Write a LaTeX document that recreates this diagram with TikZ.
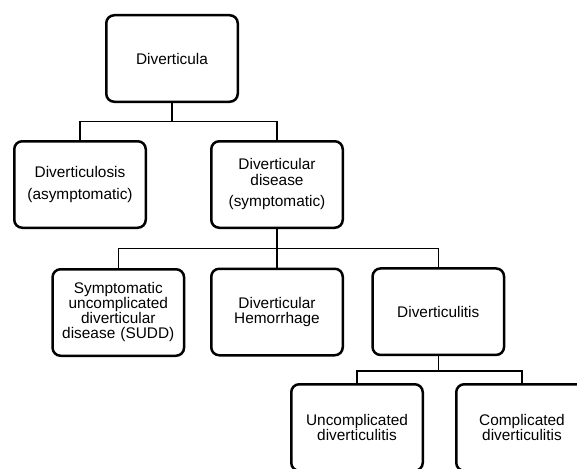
\documentclass[tikz,border=0pt]{standalone}
\usepackage{fontspec}
\setmainfont{Liberation Sans}
\begin{document}
\begin{tikzpicture}[x=1pt,y=-1pt,
  box/.style={draw=black,line width=2.5pt,rounded corners=8pt,fill=white,
    minimum width=131.5pt,minimum height=86.5pt,align=center,inner sep=2pt,
    font=\fontsize{15.4}{15}\selectfont},
  conn/.style={draw=black,line width=1.5pt}]
\useasboundingbox (0,0) rectangle (577,468);
\fill[white] (0,0) rectangle (577,468);
\clip (0,0) rectangle (577,468);
\node[box] (top)  at (172,58.5)   {Diverticula};
\node[box] (osis) at (80,184.5)   {Diverticulosis\\[7pt](asymptomatic)};
\node[box] (dd)   at (277,184.5)  {Diverticular\\[1pt]disease\\[6pt](symptomatic)};
\node[box] (sudd) at (118.3,312.5){Symptomatic\\uncomplicated\\diverticular\\disease\,\,(SUDD)};
\node[box] (hem)  at (277,312)    {Diverticular\\Hemorrhage};
\node[box] (itis) at (438.3,311.7){Diverticulitis};
\node[box] (unc)  at (357,427.5)  {Uncomplicated\\diverticulitis};
\node[box] (comp) at (522,427.5)  {Complicated\\diverticulitis};
\coordinate (b1) at (172,121.5);
\coordinate (b2) at (277,248.5);
\coordinate (b3) at (438.3,371);
\draw[conn] (top.south) -- (b1);
\draw[conn] (osis.north) |- (b1) -| (dd.north);
\draw[conn] (dd.south) -- (hem.north);
\draw[conn] (sudd.north) |- (b2) -| (itis.north);
\draw[conn] (itis.south) -- (b3);
\draw[conn] (unc.north) |- (b3) -| (comp.north);
\end{tikzpicture}
\end{document}
